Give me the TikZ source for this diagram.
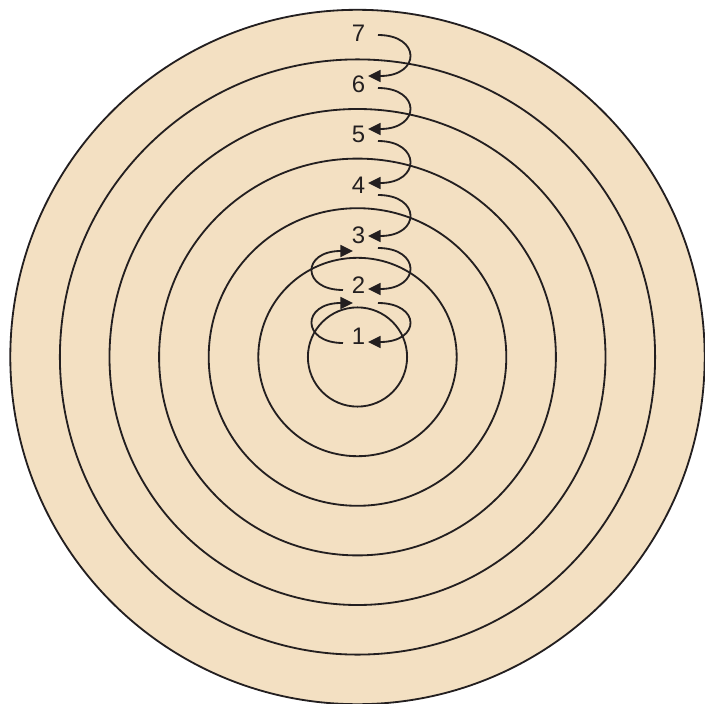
\documentclass[tikz,border=0pt]{standalone}
\usepackage{fontspec}
\setmainfont{Liberation Sans}
\usetikzlibrary{arrows.meta,calc}
\definecolor{ringfill}{RGB}{243,224,194}
\definecolor{inkblack}{RGB}{35,31,32}

\begin{document}
\begin{tikzpicture}[x=0.25mm, y=0.25mm, >={Triangle[length=9pt,width=8.5pt]},
    ring/.style={line width=1.3pt, inkblack},
    hop/.style={->, line width=1.3pt, inkblack},
    lbl/.style={font=\fontsize{17}{20}\selectfont, inner sep=0pt, text=inkblack}]
    \useasboundingbox (-357.5,-347) rectangle (346.5,357);

    % Target rings
    \fill[ringfill] (0,0) circle (347.2);
    \foreach \k in {1,...,7}
        \draw[ring] (0,0) circle ({49.6*\k});

    % Level numbers
    \foreach \k/\y in {1/21, 2/72, 3/122, 4/172, 5/223, 6/273, 7/324}
        \node[lbl] (l\k) at (1,\y) {\k};

    % Steps down on the right
    \foreach \a/\b/\s/\t in {7/6/-2/8, 6/5/-4/5, 5/4/-7/2, 4/3/-10/-1, 3/2/-13/-4, 2/1/-18/-6}
        \draw[hop] ($(l\a)+(19.5,\s)$) .. controls +(43,0) and +(53,0) .. ($(l\b)+(9.5,\t)$);

    % Steps up on the left
    \foreach \a/\b/\s/\t in {1/2/-7/-18, 2/3/-5/-16}
        \draw[hop] ($(l\a)+(-15.5,\s)$) .. controls +(-41.7,0) and +(-51.7,0) .. ($(l\b)+(-5.5,\t)$);
\end{tikzpicture}
\end{document}
